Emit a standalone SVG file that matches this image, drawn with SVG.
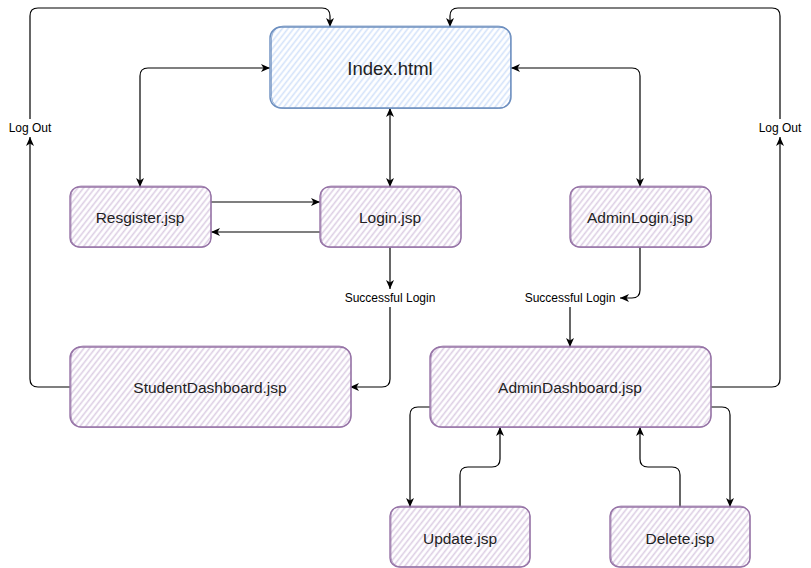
<svg xmlns="http://www.w3.org/2000/svg" width="811" height="568" viewBox="0 0 811 568">
<style>
.blue{fill:url(#hb);stroke:#6c8ebf;stroke-width:1.4}
.purp{fill:url(#hp);stroke:#9673a6;stroke-width:1.4}
.sk{fill:none;stroke-width:1;opacity:0.7}
.t{font-family:"Liberation Sans",Arial,sans-serif;font-size:15.5px;fill:#222;text-anchor:middle;dominant-baseline:central}
.s{font-family:"Liberation Sans",Arial,sans-serif;font-size:12px;fill:#000;text-anchor:middle;dominant-baseline:central}
.c{fill:none;stroke:#000;stroke-width:1.2}
.a{marker-end:url(#ah)}
.b{marker-start:url(#ah);marker-end:url(#ah)}
</style>
<defs>
<pattern id="hb" width="4.5" height="10" patternUnits="userSpaceOnUse" patternTransform="rotate(38)">
<rect width="4.5" height="10" fill="#ffffff"/>
<line x1="1.5" y1="0" x2="1.5" y2="10" stroke="#d4e3fa" stroke-width="1.6"/>
</pattern>
<pattern id="hp" width="4.5" height="10" patternUnits="userSpaceOnUse" patternTransform="rotate(38)">
<rect width="4.5" height="10" fill="#ffffff"/>
<line x1="1.5" y1="0" x2="1.5" y2="10" stroke="#ddcfe4" stroke-width="1.6"/>
</pattern>
<marker id="ah" markerUnits="userSpaceOnUse" markerWidth="10" markerHeight="10" refX="9" refY="5" orient="auto-start-reverse" viewBox="0 0 10 10">
<path d="M0,1 L9,5 L0,9 L2.5,5 Z" fill="#000"/>
</marker>
</defs>
<rect width="811" height="568" fill="#ffffff"/>

<g id="connectors">
<path class="c a" d="M70,387 H38 Q30,387 30,379 V137"/>
<path class="c a" d="M30,119 V16 Q30,8 38,8 H322 Q330,8 330,16 V27"/>
<path class="c a" d="M711,387 H772 Q780,387 780,379 V137"/>
<path class="c a" d="M780,119 V16 Q780,8 772,8 H458 Q450,8 450,16 V27"/>
<path class="c b" d="M270,68 H148 Q140,68 140,76 V187"/>
<path class="c b" d="M390,108 V187"/>
<path class="c b" d="M511,68 H632 Q640,68 640,76 V187"/>
<path class="c a" d="M211,202 H320"/>
<path class="c a" d="M320,232 H211"/>
<path class="c a" d="M390,247 V289"/>
<path class="c a" d="M390,307 V379 Q390,387 382,387 H350"/>
<path class="c a" d="M640,247 V290 Q640,298 632,298 H620"/>
<path class="c a" d="M570,307 V347"/>
<path class="c a" d="M430,407 H418 Q410,407 410,415 V507"/>
<path class="c a" d="M460,507 V475 Q460,467 468,467 H492 Q500,467 500,459 V427"/>
<path class="c a" d="M680,507 V475 Q680,467 672,467 H648 Q640,467 640,459 V427"/>
<path class="c a" d="M711,407 H722 Q730,407 730,415 V507"/>
</g>

<g id="index">
<rect class="blue" x="270" y="27" width="241" height="81" rx="11"/>
<rect class="sk" x="271.5" y="26" width="239" height="82.5" rx="12" stroke="#6c8ebf"/>
<text class="t" x="390" y="68" style="font-size:18.5px">Index.html</text>
</g>
<g id="register">
<rect class="purp" x="70" y="187" width="141" height="60" rx="9"/>
<rect class="sk" x="71" y="186" width="140" height="61.5" rx="10" stroke="#9673a6"/>
<text class="t" x="140" y="217">Resgister.jsp</text>
</g>
<g id="login">
<rect class="purp" x="320" y="187" width="141" height="60" rx="9"/>
<rect class="sk" x="321" y="186" width="140" height="61.5" rx="10" stroke="#9673a6"/>
<text class="t" x="390" y="217">Login.jsp</text>
</g>
<g id="adminlogin">
<rect class="purp" x="570" y="187" width="141" height="60" rx="9"/>
<rect class="sk" x="571" y="186" width="140" height="61.5" rx="10" stroke="#9673a6"/>
<text class="t" x="640" y="217">AdminLogin.jsp</text>
</g>
<g id="studentdashboard">
<rect class="purp" x="70" y="347" width="281" height="80" rx="11"/>
<rect class="sk" x="71" y="346" width="280" height="81.5" rx="12" stroke="#9673a6"/>
<text class="t" x="210" y="387">StudentDashboard.jsp</text>
</g>
<g id="admindashboard">
<rect class="purp" x="430" y="347" width="281" height="80" rx="11"/>
<rect class="sk" x="431" y="346" width="280" height="81.5" rx="12" stroke="#9673a6"/>
<text class="t" x="570" y="387">AdminDashboard.jsp</text>
</g>
<g id="update">
<rect class="purp" x="390" y="507" width="140" height="60" rx="9"/>
<rect class="sk" x="391" y="506" width="139" height="61" rx="10" stroke="#9673a6"/>
<text class="t" x="460" y="538">Update.jsp</text>
</g>
<g id="delete">
<rect class="purp" x="610" y="507" width="140" height="60" rx="9"/>
<rect class="sk" x="611" y="506" width="139" height="61" rx="10" stroke="#9673a6"/>
<text class="t" x="680" y="538">Delete.jsp</text>
</g>
<g id="logout-left"><text class="s" x="30" y="128">Log Out</text></g>
<g id="logout-right"><text class="s" x="780" y="128">Log Out</text></g>
<g id="success-left"><text class="s" x="390" y="298">Successful Login</text></g>
<g id="success-right"><text class="s" x="570" y="298">Successful Login</text></g>
</svg>
